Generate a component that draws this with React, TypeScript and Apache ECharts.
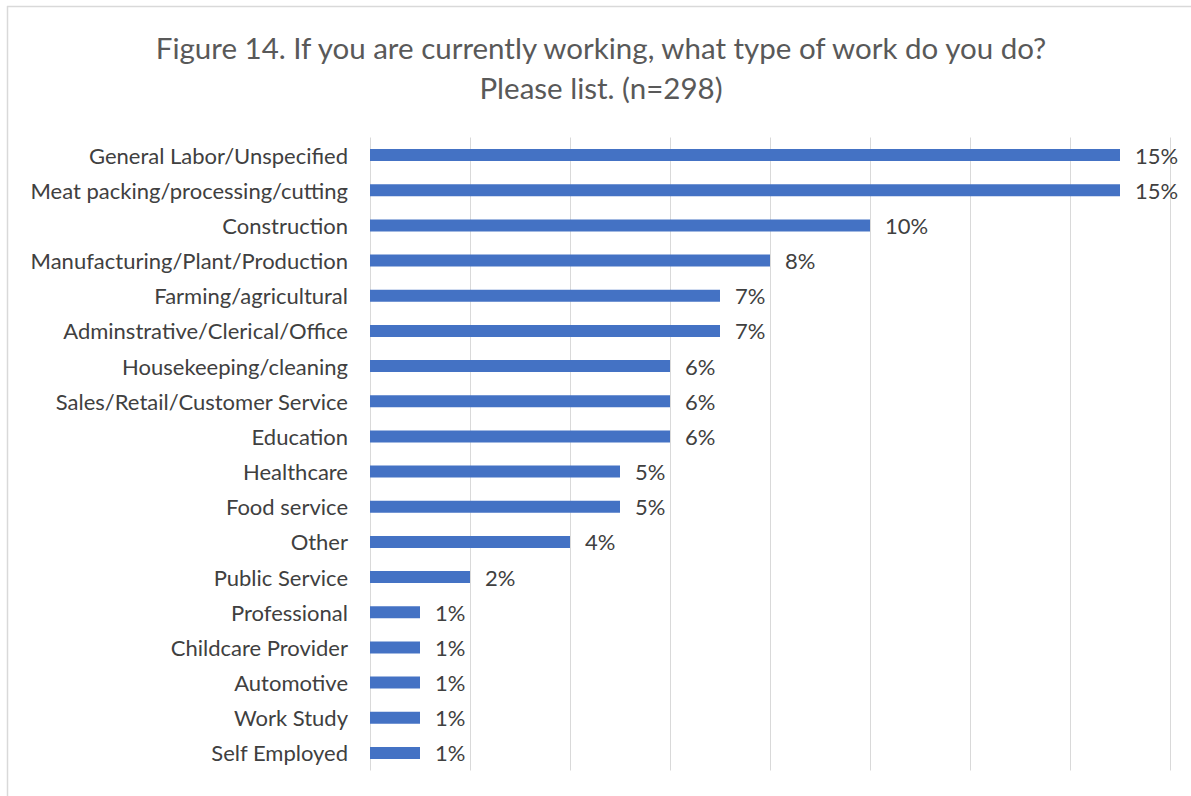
import React, { useEffect, useRef } from "react";
import * as echarts from "echarts";

const titleLines = [
  "Figure 14. If you are currently working, what type of work do you do?",
  "Please list. (n=298)",
];

const categories = [
  "General Labor/Unspecified",
  "Meat packing/processing/cutting",
  "Construction",
  "Manufacturing/Plant/Production",
  "Farming/agricultural",
  "Adminstrative/Clerical/Office",
  "Housekeeping/cleaning",
  "Sales/Retail/Customer Service",
  "Education",
  "Healthcare",
  "Food service",
  "Other",
  "Public Service",
  "Professional",
  "Childcare Provider",
  "Automotive",
  "Work Study",
  "Self Employed",
];

const percentValues = [15, 15, 10, 8, 7, 7, 6, 6, 6, 5, 5, 4, 2, 1, 1, 1, 1, 1];

const FONT = "Lato, 'Open Sans', sans-serif";

export default function App() {
  const ref = useRef<HTMLDivElement>(null);

  useEffect(() => {
    if (!ref.current) return;
    const chart = echarts.init(ref.current, null, { renderer: "svg" });
    chart.setOption({
      animation: false,
      backgroundColor: "#ffffff",
      textStyle: { fontFamily: FONT },
      grid: { left: 370, right: 21, top: 137.5, bottom: 25.5, containLabel: false },
      xAxis: {
        type: "value",
        min: 0,
        max: 16,
        interval: 2,
        axisLabel: { show: false },
        axisLine: { show: false },
        axisTick: { show: false },
        splitLine: { show: true, lineStyle: { color: "#d9d9d9", width: 1 } },
      },
      yAxis: {
        type: "category",
        inverse: true,
        data: categories,
        axisLine: { show: false },
        axisTick: { show: false },
        axisLabel: {
          color: "#404040",
          fontSize: 22,
          fontFamily: FONT,
          margin: 22,
        },
      },
      series: [
        {
          type: "bar",
          data: percentValues,
          barWidth: 12,
          itemStyle: { color: "#4472C4" },
          label: {
            show: true,
            position: "right",
            distance: 15,
            formatter: "{c}%",
            color: "#404040",
            fontSize: 22,
            fontFamily: FONT,
          },
        },
      ],
      graphic: [
        {
          type: "line",
          shape: { x1: 7, y1: 6.5, x2: 1191, y2: 6.5 },
          style: { stroke: "#d9d9d9", lineWidth: 1.5 },
        },
        {
          type: "line",
          shape: { x1: 7.5, y1: 6, x2: 7.5, y2: 796 },
          style: { stroke: "#d9d9d9", lineWidth: 1.5 },
        },
        ...titleLines.map((t, i) => ({
          type: "text",
          x: 601,
          y: 47 + i * 40,
          style: {
            text: t,
            fill: "#595959",
            fontSize: 29.5,
            fontFamily: FONT,
            textAlign: "center",
            textVerticalAlign: "middle",
          },
        })),
      ],
    });
    return () => chart.dispose();
  }, []);

  return (
    <div
      ref={ref}
      style={{ position: "fixed", left: 0, top: 0, width: 1191, height: 796 }}
    />
  );
}
